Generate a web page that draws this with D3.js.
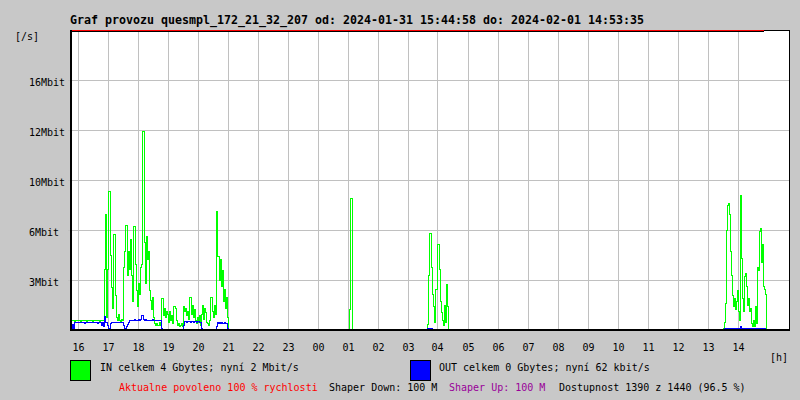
<!DOCTYPE html>
<html><head><meta charset="utf-8">
<script src="https://cdn.jsdelivr.net/npm/d3@7"></script>
<style>
html,body{margin:0;padding:0;background:#c8c8c8;}
svg{display:block;}
text{font-family:"DejaVu Sans Mono","Liberation Mono",monospace;}
</style>
</head><body>
<svg id="chart" width="800" height="400"></svg>
<script>
// ---------- data ----------
const titleText = "Graf provozu quesmpl_172_21_32_207 od: 2024-01-31 15:44:58 do: 2024-02-01 14:53:35";
const yUnitLabel = "[/s]";
const xUnitLabel = "[h]";
const periodStart = "2024-01-31 15:44:58";
const periodEnd = "2024-02-01 14:53:35";
const axisStart = "2024-01-31 15:45:00";
const axisEnd = "2024-02-01 15:45:00";
const yMax = 19.2; // Mbit/s at top of plot
const yTickValues = [3.2, 6.4, 9.6, 12.8, 16];
const yTickLabels = ["3Mbit", "6Mbit", "10Mbit", "12Mbit", "16Mbit"];
const firstTickHour = "2024-01-31 16:00:00";
const xTickLabels = ["16","17","18","19","20","21","22","23","00","01","02","03","04","05","06","07","08","09","10","11","12","13","14"];
const sampleMinutes = 2;

// burst A: 15:45 - 21:01
const segAStart = "2024-01-31 15:45:00";
const segAIn = [0.68,
 0.6,0.58,0.62,0.56,0.6,0.58,0.6,0.62,0.58,0.56,0.6,0.6,0.58,0.62,0.6,0.56,
 0.58,0.6,0.62,0.58,0.6,0.56,0.6,0.58,0.62,0.6,0.58,0.6,0.56,0.6,0.58,0.6,
 0.6,3.9,7.4,0.8,3.9,8.85,8.85,4.8,2.7,1.4,6.1,6.1,2.2,0.8,0.6,1.0,0.6,0.5,0.7,0.6,
 4.0,5.0,6.7,6.7,3.5,5.0,3.9,5.8,3.5,1.8,6.6,6.6,4.2,2.5,1.5,3.0,2.3,4.0,4.2,
 12.7,12.7,5.6,3.0,6.0,4.5,5.0,2.5,
 1.9,1.3,2.1,0.8,0.4,0.3,0.4,0.3,0.3,0.5,0.3,2.0,2.0,0.9,1.4,0.8,1.2,1.0,0.5,1.2,
 0.6,0.9,0.4,1.5,1.5,1.4,0.6,0.3,0.4,0.2,0.3,0.4,0.2,1.5,1.2,1.4,0.9,1.2,0.7,2.1,
 2.1,1.0,1.6,0.8,1.3,0.6,0.4,0.8,0.5,0.9,0.3,1.0,1.6,0.7,1.4,1.1,0.5,0.4,0.3,0.6,
 2.1,2.1,1.2,0.8,1.6,1.0,7.6,4.7,4.7,3.2,4.5,2.8,3.8,1.8,2.6,1.4,2.1,0.8,0];
const segAOut = [0.5,0.1,0.35,0.05,
 0.48,0.46,0.5,0.48,0.45,0.48,0.5,0.46,0.48,0.48,0.44,0.5,0.48,0.46,0.48,0.5,
 0.48,0.45,0.48,0.46,0.5,0.48,0.48,0.44,0.48,0.5,0.46,
 0.3,0.45,0.2,0.85,0.5,0.45,0.3,0.05,0.1,0.4,
 0.5,0.48,0.46,0.5,0.48,0.5,0.45,0.48,0.5,0.46,0.48,0.45,
 0.3,0.1,0.0,0.2,0.35,0.5,
 0.6,0.62,0.58,0.64,0.6,0.66,0.62,0.6,0.64,0.68,0.62,0.66,
 0.96,0.9,0.7,
 0.64,0.66,0.62,0.6,0.64,0.62,
 0.64,0.62,0.66,0.6,0.64,0.62,0.6,0.64,0.62,0.58,0.6,
 0.1,
 0,0,0,0,0,0,0,0,0,0,0,0,0,0,0,0,0,0,0,0,0,
 0.3,
 0.54,0.52,0.5,0.54,0.52,0.55,0.5,0.52,0.54,0.5,0.52,0.53,0.5,0.54,0.52,0.48,0.5,
 0.1,
 0,0,0,0,0,0,0,0,0,0,0,0,0,0,
 0.2,
 0.45,0.44,0.46,0.42,0.45,0.44,0.4,0.45,0.44,0.42,0.1,
 0];

// trace B: 21:35
const segBStart = "2024-01-31 21:35:00";
const segBIn = [0,0.05,0,0,0,0,0.05,0.05,0,0,0.05,0.05,0];
const segBOut = [0,0,0,0,0,0,0,0,0,0,0,0,0];

// spike C: 01:01
const segCStart = "2024-02-01 01:01:00";
const segCIn = [0,1.3,8.4,8.4,0];
const segCOut = [0,0,0.05,0,0];

// burst D: 03:29
const segDStart = "2024-02-01 03:29:00";
const segDIn = [0,0.05,0.05,0.05,0,0.35,3.5,6.2,6.2,4.0,2.3,1.5,0.5,2.6,2.6,5.5,5.5,3.9,1.8,1.1,0.6,0.3,1.6,0.5,2.9,1.5,0];
const segDOut = [0,0,0,0,0,0.1,0.12,0.1,0.12,0.08,0,0,0,0,0,0,0,0.06,0,0,0,0,0,0,0,0,0];

// burst E: 13:29
const segEStart = "2024-02-01 13:29:00";
const segEIn = [0,0.1,0.5,1.7,6.4,8.0,8.1,7.4,5.0,3.5,2.2,1.5,2.0,1.3,1.8,2.5,1.2,0.6,8.6,4.6,
 2.0,1.2,3.4,3.6,2.8,1.6,2.0,1.2,1.4,0.4,0.2,0.6,0.2,1.5,0.4,4.0,3.8,6.3,6.5,4.3,5.5,2.8,2.6,2.3,0];
const segEOut = [0,0,0.12,0.1,0.12,0.08,0.1,0.12,0.06,0.08,0.06,0.1,0.08,0.12,0.06,0.08,0.12,0.08,0.2,0.06,
 0.08,0.1,0.06,0.1,0.06,0.08,0.1,0.12,0.06,0.08,0.1,0.12,0.06,0.08,0.12,0.08,0.06,0.1,0.12,0.08,0.06,0.1,0.08,0.06,0];

const legendIn = "IN celkem 4 Gbytes; nyní 2 Mbit/s";
const legendOut = "OUT celkem 0 Gbytes; nyní 62 kbit/s";
const statusAllowed = "Aktualne povoleno 100 % rychlosti";
const statusDown = "Shaper Down: 100 M";
const statusUp = "Shaper Up: 100 M";
const statusAvail = "Dostupnost 1390 z 1440 (96.5 %)";

const colIn = "#00ff00", colOut = "#0000ff", colRed = "#ff0000", colPurple = "#990099";
const colGrid = "#c0c0c0", colBg = "#c8c8c8";

// ---------- drawing ----------
const parse = d3.utcParse("%Y-%m-%d %H:%M:%S");
const svg = d3.select("#chart");
const L = 70, R = 790, T = 30, B = 330;

const x = d3.scaleUtc().domain([parse(axisStart), parse(axisEnd)]).range([L, R]);
const y = d3.scaleLinear().domain([0, yMax]).range([B, T]);

svg.append("rect").attr("width", 800).attr("height", 400).attr("fill", colBg);
svg.append("rect").attr("x", L).attr("y", T).attr("width", R - L).attr("height", B - T).attr("fill", "#fff");

// title
svg.append("text").attr("x", L).attr("y", 23.5).attr("font-size", "11.63px").attr("font-weight", "bold")
  .attr("fill", "#000").text(titleText);
svg.append("text").attr("x", 15).attr("y", 40).attr("font-size", "10px").attr("fill", "#000").text(yUnitLabel);

// gridlines
const hourTimes = xTickLabels.map((_, i) => d3.utcHour.offset(parse(firstTickHour), i));
const gGrid = svg.append("g").attr("shape-rendering", "crispEdges");
gGrid.selectAll("line.v").data(hourTimes).join("line")
  .attr("x1", d => Math.round(x(d)) + 0.5).attr("x2", d => Math.round(x(d)) + 0.5)
  .attr("y1", T + 1).attr("y2", B - 1).attr("stroke", colGrid).attr("stroke-width", 1);
gGrid.selectAll("line.h").data(yTickValues).join("line")
  .attr("x1", L - 2).attr("x2", R)
  .attr("y1", d => Math.round(y(d)) + 0.5).attr("y2", d => Math.round(y(d)) + 0.5)
  .attr("stroke", colGrid).attr("stroke-width", 1);

// y labels
svg.append("g").selectAll("text").data(yTickValues).join("text")
  .attr("x", 29).attr("y", d => Math.round(y(d)) + 6)
  .attr("font-size", "10px").attr("fill", "#000")
  .text((d, i) => yTickLabels[i]);

// x labels
svg.append("g").selectAll("text").data(hourTimes).join("text")
  .attr("x", d => Math.round(x(d)) + 0.5).attr("y", 351)
  .attr("text-anchor", "middle").attr("font-size", "10px").attr("fill", "#000")
  .text((d, i) => xTickLabels[i]);
svg.append("text").attr("x", 770).attr("y", 361).attr("font-size", "10px").attr("fill", "#000").text(xUnitLabel);

// series
const segments = [
  [segAStart, segAIn, segAOut],
  [segBStart, segBIn, segBOut],
  [segCStart, segCIn, segCOut],
  [segDStart, segDIn, segDOut],
  [segEStart, segEIn, segEOut]
];
const line = d3.line().curve(d3.curveStep).x(d => x(d.t) + 0.5).y(d => y(d.v));
function pts(start, vals) {
  const t0 = parse(start);
  return vals.map((v, i) => ({ t: d3.utcMinute.offset(t0, i * sampleMinutes), v }));
}
const gData = svg.append("g").attr("shape-rendering", "crispEdges");
segments.forEach(([s, vin]) => {
  gData.append("path").attr("d", line(pts(s, vin))).attr("fill", "none")
    .attr("stroke", colIn).attr("stroke-width", 1);
});
segments.forEach(([s, , vout]) => {
  gData.append("path").attr("d", line(pts(s, vout))).attr("fill", "none")
    .attr("stroke", colOut).attr("stroke-width", 1);
});

// frame
const gF = svg.append("g").attr("shape-rendering", "crispEdges");
gF.append("line").attr("x1", L).attr("x2", R).attr("y1", T + 0.5).attr("y2", T + 0.5).attr("stroke", "#000");
gF.append("line").attr("x1", x(parse(periodStart))).attr("x2", x(parse(periodEnd)))
  .attr("y1", T + 1.5).attr("y2", T + 1.5).attr("stroke", "#000");
gF.append("line").attr("x1", x(parse(periodStart))).attr("x2", x(parse(periodEnd)))
  .attr("y1", T + 0.5).attr("y2", T + 0.5).attr("stroke", colRed);
gF.append("line").attr("x1", R - 0.5).attr("x2", R - 0.5).attr("y1", T).attr("y2", B + 1).attr("stroke", "#000");
gF.append("rect").attr("x", L).attr("y", T).attr("width", 2).attr("height", B - T + 1).attr("fill", "#000");
gF.append("rect").attr("x", L).attr("y", B - 1).attr("width", R - L).attr("height", 2).attr("fill", "#000");

// legend
const legend = [[70, colIn, legendIn, 100], [410, colOut, legendOut, 439]];
legend.forEach(([lx, c, txt, tx]) => {
  svg.append("rect").attr("x", lx + 0.5).attr("y", 360.5).attr("width", 20).attr("height", 20)
    .attr("fill", c).attr("stroke", "#000").attr("shape-rendering", "crispEdges");
  svg.append("text").attr("x", tx).attr("y", 370.5).attr("font-size", "10px").attr("fill", "#000").text(txt);
});

// status line
[[119, colRed, statusAllowed], [329, "#000", statusDown], [449, colPurple, statusUp], [559, "#000", statusAvail]]
  .forEach(([sx, c, txt]) => {
    svg.append("text").attr("x", sx).attr("y", 390.5).attr("font-size", "10px").attr("fill", c).text(txt);
  });
</script>
</body></html>
